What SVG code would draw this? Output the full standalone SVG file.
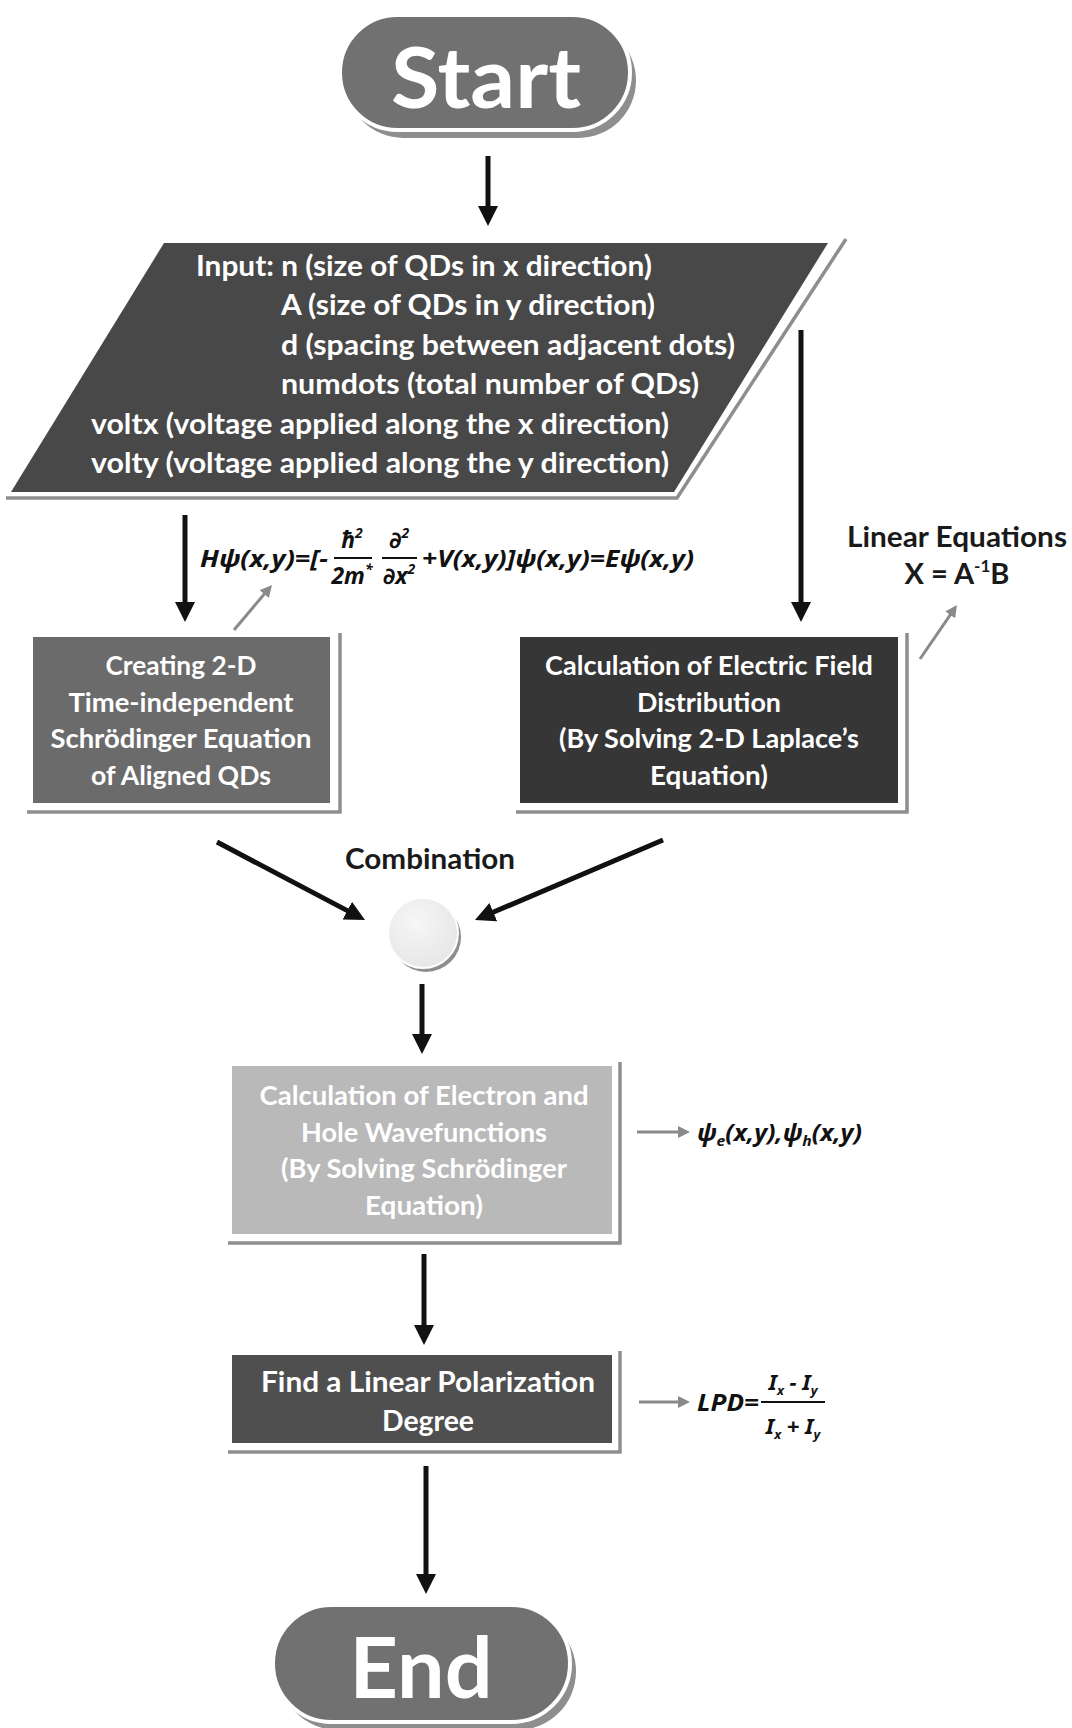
<svg xmlns="http://www.w3.org/2000/svg" width="1072" height="1728" viewBox="0 0 1072 1728">
<defs>
<style>
.t{font-family:Lato,'Noto Sans','DejaVu Sans',sans-serif;font-weight:700;fill:#fff}
.big{font-size:85px}
.par{font-size:29px}
.box{font-size:27px}
.lpd{font-size:29px}
.lbl{font-family:Lato,'Noto Sans','DejaVu Sans',sans-serif;font-weight:700;fill:#1a1a1a;font-size:29px}
.eq{font-family:'Noto Sans','DejaVu Sans',sans-serif;font-weight:700;font-style:italic;fill:#111}
.sh{fill:none;stroke:#8e8e8e;stroke-width:3.5}
.conn{fill:none;stroke:#111;stroke-width:5;marker-end:url(#ah)}
.gconn{fill:none;stroke:#8a8a8a;stroke-width:3;marker-end:url(#gh)}
.bar{stroke:#111;stroke-width:2}
</style>
<marker id="ah" viewBox="0 0 20 20" markerWidth="20" markerHeight="20" refX="8" refY="10" orient="auto" markerUnits="userSpaceOnUse"><path d="M0,0 L20,10 L0,20 z" fill="#111"/></marker>
<marker id="gh" viewBox="0 0 12 12" markerWidth="12" markerHeight="12" refX="5" refY="6" orient="auto" markerUnits="userSpaceOnUse"><path d="M0,0 L12,6 L0,12 z" fill="#8a8a8a"/></marker>
<radialGradient id="cg" cx="0.4" cy="0.35" r="0.7"><stop offset="0" stop-color="#f6f6f6"/><stop offset="1" stop-color="#e6e6e6"/></radialGradient>
</defs>
<rect width="1072" height="1728" fill="#fff"/>

<g id="start">
<rect x="346" y="23" width="290" height="115" rx="57.5" fill="#8e8e8e"/>
<rect x="340" y="15" width="290" height="115" rx="57.5" fill="#717171" stroke="#fff" stroke-width="4"/>
<text class="t big" x="486" y="108" text-anchor="middle" textLength="190" lengthAdjust="spacingAndGlyphs">Start</text>
</g>

<g id="input">
<path class="sh" d="M846,239 L677,498 L6,498"/>
<polygon points="164,243 828,243 674,492 11,492" fill="#484848"/>
<text class="t par" x="196" y="276" textLength="456" lengthAdjust="spacingAndGlyphs">Input: n (size of QDs in x direction)</text>
<text class="t par" x="281" y="315" textLength="374" lengthAdjust="spacingAndGlyphs">A (size of QDs in y direction)</text>
<text class="t par" x="281" y="355" textLength="454" lengthAdjust="spacingAndGlyphs">d (spacing between adjacent dots)</text>
<text class="t par" x="281" y="394" textLength="418" lengthAdjust="spacingAndGlyphs">numdots (total number of QDs)</text>
<text class="t par" x="91" y="434" textLength="578" lengthAdjust="spacingAndGlyphs">voltx (voltage applied along the x direction)</text>
<text class="t par" x="91" y="473" textLength="578" lengthAdjust="spacingAndGlyphs">volty (voltage applied along the y direction)</text>
</g>

<g id="schrodinger-eq-node">
<path class="sh" d="M27,812 H340 V633"/>
<rect x="33" y="637" width="297" height="166" fill="#6b6b6b"/>
<text class="t box" x="181" y="675" text-anchor="middle" textLength="151" lengthAdjust="spacingAndGlyphs">Creating 2-D</text>
<text class="t box" x="181" y="712" text-anchor="middle" textLength="225" lengthAdjust="spacingAndGlyphs">Time-independent</text>
<text class="t box" x="181" y="748" text-anchor="middle" textLength="261" lengthAdjust="spacingAndGlyphs">Schrödinger Equation</text>
<text class="t box" x="181" y="785" text-anchor="middle" textLength="180" lengthAdjust="spacingAndGlyphs">of Aligned QDs</text>
</g>

<g id="efield">
<path class="sh" d="M516,812 H907 V633"/>
<rect x="520" y="637" width="378" height="166" fill="#363636"/>
<text class="t box" x="709" y="675" text-anchor="middle" textLength="328" lengthAdjust="spacingAndGlyphs">Calculation of Electric Field</text>
<text class="t box" x="709" y="712" text-anchor="middle" textLength="144" lengthAdjust="spacingAndGlyphs">Distribution</text>
<text class="t box" x="709" y="748" text-anchor="middle" textLength="300" lengthAdjust="spacingAndGlyphs">(By Solving 2-D Laplace’s</text>
<text class="t box" x="709" y="785" text-anchor="middle" textLength="118" lengthAdjust="spacingAndGlyphs">Equation)</text>
</g>

<g id="combine">
<circle cx="426" cy="937" r="35" fill="#8e8e8e"/>
<circle cx="423" cy="933" r="35" fill="url(#cg)" stroke="#fff" stroke-width="2"/>
</g>

<g id="wavefunctions">
<path class="sh" d="M228,1243 H620 V1062"/>
<rect x="232" y="1066" width="380" height="168" fill="#b9b9b9"/>
<text class="t box" x="424" y="1105" text-anchor="middle" textLength="329" lengthAdjust="spacingAndGlyphs">Calculation of Electron and</text>
<text class="t box" x="424" y="1142" text-anchor="middle" textLength="246" lengthAdjust="spacingAndGlyphs">Hole Wavefunctions</text>
<text class="t box" x="424" y="1178" text-anchor="middle" textLength="286" lengthAdjust="spacingAndGlyphs">(By Solving Schrödinger</text>
<text class="t box" x="424" y="1215" text-anchor="middle" textLength="118" lengthAdjust="spacingAndGlyphs">Equation)</text>
</g>

<g id="lpd">
<path class="sh" d="M228,1452 H620 V1351"/>
<rect x="232" y="1355" width="380" height="88" fill="#4f4f4f"/>
<text class="t lpd" x="428" y="1392" text-anchor="middle" textLength="334" lengthAdjust="spacingAndGlyphs">Find a Linear Polarization</text>
<text class="t lpd" x="428" y="1431" text-anchor="middle" textLength="92" lengthAdjust="spacingAndGlyphs">Degree</text>
</g>

<g id="end">
<rect x="279" y="1613" width="297" height="117" rx="58.5" fill="#8e8e8e"/>
<rect x="273" y="1605" width="297" height="117" rx="58.5" fill="#717171" stroke="#fff" stroke-width="4"/>
<text class="t big" x="421" y="1698" text-anchor="middle" textLength="143" lengthAdjust="spacingAndGlyphs">End</text>
</g>

<g id="connectors">
<line class="conn" x1="488" y1="156" x2="488" y2="214"/>
<line class="conn" x1="185" y1="515" x2="185" y2="610"/>
<line class="conn" x1="801" y1="330" x2="801" y2="610"/>
<line class="conn" x1="217" y1="842" x2="354.4" y2="914.4"/>
<line class="conn" x1="663" y1="840" x2="486" y2="915.3"/>
<line class="conn" x1="422" y1="984" x2="422" y2="1042"/>
<line class="conn" x1="424" y1="1254" x2="424" y2="1333"/>
<line class="conn" x1="426" y1="1466" x2="426" y2="1582"/>
<line class="gconn" x1="234" y1="630" x2="267.5" y2="590.3"/>
<line class="gconn" x1="920" y1="659" x2="953" y2="610.8"/>
<line class="gconn" x1="637" y1="1132" x2="683" y2="1132"/>
<line class="gconn" x1="639" y1="1402" x2="683" y2="1402"/>
</g>

<g id="labels">
<text class="lbl" x="430" y="869" text-anchor="middle" textLength="170" lengthAdjust="spacingAndGlyphs">Combination</text>
<text class="lbl" x="957" y="547" text-anchor="middle" textLength="220" lengthAdjust="spacingAndGlyphs">Linear Equations</text>
<text class="lbl" x="957" y="584" text-anchor="middle">X = A<tspan font-size="17" dy="-12">-1</tspan><tspan dy="12">B</tspan></text>
</g>

<g id="eq-schrodinger" class="eq">
<text x="200" y="567" font-size="24" textLength="128" lengthAdjust="spacingAndGlyphs">Hψ(x,y)=[−</text>
<text x="352" y="548" font-size="23" text-anchor="middle">ħ<tspan font-size="14" dy="-10">2</tspan></text>
<line class="bar" x1="334" y1="558" x2="372" y2="558"/>
<text x="352" y="584" font-size="23" text-anchor="middle">2m<tspan font-size="14" dy="-10">*</tspan></text>
<text x="399" y="548" font-size="23" text-anchor="middle">∂<tspan font-size="14" dy="-10">2</tspan></text>
<line class="bar" x1="382" y1="558" x2="417" y2="558"/>
<text x="399" y="584" font-size="23" text-anchor="middle">∂x<tspan font-size="14" dy="-10">2</tspan></text>
<text x="422" y="567" font-size="24" textLength="272" lengthAdjust="spacingAndGlyphs">+V(x,y)]ψ(x,y)=Eψ(x,y)</text>
</g>

<g id="eq-wave" class="eq">
<text x="697" y="1141" font-size="24" textLength="165" lengthAdjust="spacingAndGlyphs">ψ<tspan font-size="15" dy="5">e</tspan><tspan dy="-5">(x,y),ψ</tspan><tspan font-size="15" dy="5">h</tspan><tspan dy="-5">(x,y)</tspan></text>
</g>

<g id="eq-lpd" class="eq">
<text x="697" y="1411" font-size="23" textLength="62" lengthAdjust="spacingAndGlyphs">LPD=</text>
<text x="793" y="1390" font-size="22" text-anchor="middle">I<tspan font-size="13" dy="5">x</tspan><tspan dy="-5"> − I</tspan><tspan font-size="13" dy="5">y</tspan></text>
<line class="bar" x1="761" y1="1402" x2="825" y2="1402"/>
<text x="793" y="1434" font-size="22" text-anchor="middle">I<tspan font-size="13" dy="5">x</tspan><tspan dy="-5"> + I</tspan><tspan font-size="13" dy="5">y</tspan></text>
</g>
</svg>
